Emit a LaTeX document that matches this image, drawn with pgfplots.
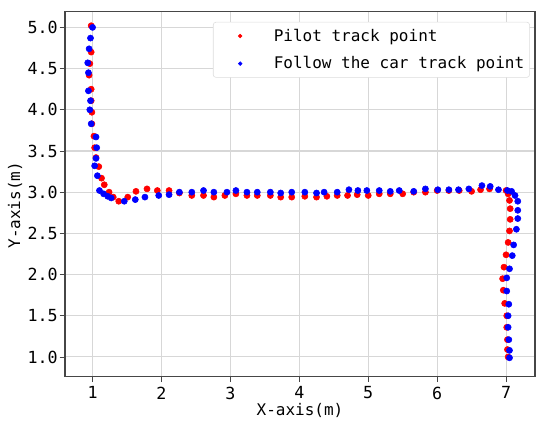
\documentclass[border=0pt]{standalone}
\usepackage{fontspec}
\setmainfont{DejaVu Sans Mono}
\usepackage{pgfplots}
\pgfplotsset{compat=1.18}
\definecolor{gridgray}{RGB}{215,215,215}
\definecolor{spinegray}{RGB}{70,70,70}
\definecolor{legedge}{RGB}{220,220,220}

\begin{document}
\begin{tikzpicture}
\begin{axis}[
  scale only axis,
  width=352.5pt, height=273.75pt,
  xmin=0.6, xmax=7.42, ymin=0.76, ymax=5.19,
  xtick={1,2,3,4,5,6,7},
  ytick={1,1.5,2,2.5,3,3.5,4,4.5,5},
  yticklabel style={xshift=2pt, /pgf/number format/.cd, fixed, fixed zerofill, precision=1},
  /pgf/number format/assume math mode=true,
  tick pos=left,
  tick align=outside,
  major tick length=4pt,
  tick style={spinegray, line width=0.6pt},
  axis line style={spinegray, line width=0.9pt},
  grid=major,
  grid style={gridgray, line width=0.8pt},
  font=\fontsize{12}{14}\selectfont,
  ticklabel style={font=\fontsize{12.5}{14}\selectfont},
  xlabel={X-axis(m)},
  ylabel={Y-axis(m)},
  x label style={at={(axis description cs:0.5,-0.0912)}, anchor=center},
  y label style={at={(axis description cs:-0.106,0.47)}, anchor=center},
  legend style={at={(0.989,0.972)}, anchor=north east,
    draw=legedge, rounded corners=2pt, fill=white,
    font=\fontsize{12}{14}\selectfont, row sep=6pt,
    inner xsep=2pt, inner ysep=3pt},
  legend cell align=left,
  legend image code/.code={\path (-13pt,0pt) (28pt,0pt); \draw[mark size=1.4pt] plot coordinates {(5pt,0pt)};},
]
\addplot[only marks, mark=*, mark size=2.3pt, color=red] coordinates {
(0.98,5.02)(0.98,4.70)(0.96,4.56)(0.95,4.42)(0.98,4.25)(0.98,4.11)(0.99,3.97)(0.99,3.83)
(1.02,3.68)(1.03,3.54)(1.05,3.42)(1.09,3.31)(1.13,3.17)(1.17,3.09)(1.24,3.00)(1.30,2.94)
(1.38,2.89)(1.51,2.94)(1.63,3.01)(1.79,3.04)(1.94,3.02)(2.11,3.02)(2.26,2.99)(2.44,2.96)
(2.61,2.96)(2.76,2.94)(2.92,2.96)(3.08,2.98)(3.24,2.96)(3.39,2.96)(3.58,2.96)(3.73,2.94)
(3.89,2.94)(4.08,2.95)(4.25,2.94)(4.40,2.95)(4.55,2.96)(4.70,2.96)(4.84,2.97)(5.00,2.96)
(5.16,2.98)(5.32,2.98)(5.50,2.98)(5.66,3.00)(5.83,3.00)(6.00,3.02)(6.17,3.02)(6.32,3.02)
(6.50,3.01)(6.63,3.03)(6.76,3.04)(7.00,3.02)(7.03,2.98)(7.05,2.90)(7.06,2.80)(7.06,2.67)
(7.05,2.53)(7.03,2.39)(7.00,2.24)(6.97,2.09)(6.95,1.95)(6.96,1.81)(6.98,1.65)(7.01,1.50)
(7.01,1.36)(7.02,1.21)(7.02,1.09)(7.03,1.00)
};
\addlegendentry{Pilot track point}
\addplot[only marks, mark=*, mark size=2.3pt, color=blue] coordinates {
(1.00,5.00)(0.97,4.87)(0.95,4.74)(0.93,4.57)(0.94,4.45)(0.94,4.23)(0.97,4.11)(0.96,4.00)
(0.98,3.83)(1.05,3.67)(1.06,3.54)(1.05,3.41)(1.03,3.32)(1.07,3.20)(1.10,3.02)(1.16,2.98)
(1.22,2.95)(1.27,2.93)(1.46,2.89)(1.62,2.91)(1.76,2.94)(1.96,2.96)(2.11,2.97)(2.26,3.00)
(2.44,3.00)(2.61,3.02)(2.76,3.00)(2.95,3.00)(3.08,3.02)(3.24,3.00)(3.39,3.00)(3.58,3.00)
(3.73,2.99)(3.89,3.00)(4.08,3.00)(4.25,2.99)(4.36,3.00)(4.55,3.00)(4.72,3.03)(4.85,3.02)
(4.98,3.02)(5.16,3.02)(5.32,3.01)(5.45,3.02)(5.66,3.01)(5.83,3.04)(6.01,3.03)(6.17,3.03)
(6.31,3.03)(6.46,3.04)(6.65,3.08)(6.77,3.07)(6.89,3.03)(7.02,3.02)(7.08,3.01)(7.13,2.96)
(7.17,2.89)(7.17,2.78)(7.17,2.68)(7.15,2.55)(7.11,2.36)(7.09,2.23)(7.05,2.07)(7.01,1.96)
(7.01,1.80)(7.04,1.64)(7.03,1.50)(7.03,1.36)(7.04,1.21)(7.05,1.08)(7.05,0.99)
};
\addlegendentry{Follow the car track point}
\end{axis}
\path ([xshift=-48.75pt,yshift=-37pt]current axis.south west)
  rectangle ([xshift=11.25pt,yshift=8.8pt]current axis.north east);
\end{tikzpicture}
\end{document}
